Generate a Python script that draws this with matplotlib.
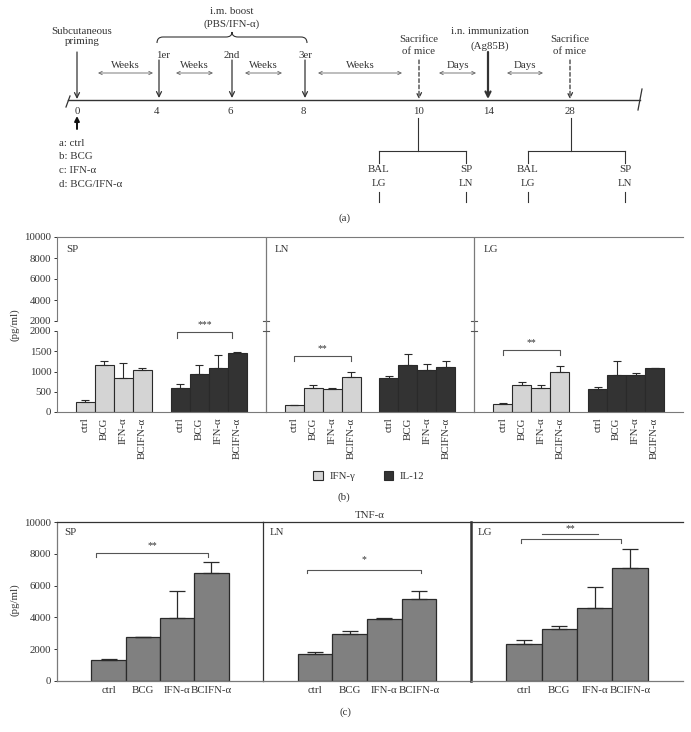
import numpy as np
import matplotlib
matplotlib.use('Agg')
import matplotlib.pyplot as plt
from matplotlib.patches import Patch, PathPatch
from matplotlib.path import Path

plt.rcParams['font.family'] = ['Liberation Serif', 'DejaVu Serif']
plt.rcParams['font.size'] = 7.8
plt.rcParams['text.color'] = '#333333'
plt.rcParams['xtick.color'] = '#333333'
plt.rcParams['ytick.color'] = '#333333'
plt.rcParams['axes.edgecolor'] = '#7a7a7a'
plt.rcParams['axes.facecolor'] = 'none'

# ---- data ----
groups = ['ctrl', 'BCG', 'IFN-α', 'BCIFN-α']
organs = ['SP', 'LN', 'LG']

# (b) IFN-gamma and IL-12, mean and upper SD for each organ
ifng_mean = [[250, 1160, 840, 1040], [170, 590, 570, 860], [190, 660, 590, 990]]
ifng_err = [[40, 110, 360, 35], [0, 85, 20, 125], [20, 80, 85, 135]]
il12_mean = [[600, 930, 1090, 1460], [840, 1150, 1040, 1100], [570, 925, 925, 1075]]
il12_err = [[100, 235, 310, 30], [60, 290, 150, 165], [50, 340, 40, 0]]

# (c) TNF-alpha
tnf_mean = [[1330, 2750, 3980, 6810], [1720, 2980, 3870, 5130], [2310, 3300, 4620, 7080]]
tnf_err = [[50, 0, 1710, 700], [80, 170, 70, 520], [260, 150, 1280, 1220]]

# (a) timeline
tl_labels = ['0', '4', '6', '8', '10', '14', '28']
legend_a = ['a: ctrl', 'b: BCG', 'c: IFN-α', 'd: BCG/IFN-α']

W, H = 691, 732
fig = plt.figure(figsize=(W / 100, H / 100), dpi=100)


def fbox(x0, y0, x1, y1):
    # pixel box -> figure fraction rect
    return [x0 / W, 1 - y1 / H, (x1 - x0) / W, (y1 - y0) / H]


# ================= panel (a) =================
ax = fig.add_axes(fbox(0, 0, W, 225))
ax.set_xlim(0, W)
ax.set_ylim(225, 0)
ax.axis('off')
ink = '#333333'
tl_x = [77, 157, 230, 303, 419, 489, 570]
ty = 100
ax.plot([68, 640], [ty, ty], color=ink, lw=1)
ax.plot([66, 70], [107, 96], color=ink, lw=0.9)
ax.plot([638, 642], [110, 89], color=ink, lw=0.9)
for lab, x in zip(tl_labels, tl_x):
    ax.text(x, 111, lab, ha='center', va='center')

def arrow(x, y0, y1, ls='-', lw=0.9):
    ax.annotate('', xy=(x, y1), xytext=(x, y0),
                arrowprops=dict(arrowstyle='->', color=ink, lw=lw, ls=ls,
                                shrinkA=0, shrinkB=0, mutation_scale=9))

def darrow(x0, x1, y, txt):
    ax.annotate('', xy=(x1, y), xytext=(x0, y),
                arrowprops=dict(arrowstyle='<->', color='#666666', lw=0.6,
                                shrinkA=0, shrinkB=0, mutation_scale=6))
    ax.text((x0 + x1) / 2, y - 8, txt, ha='center', va='center')

arrow(tl_x[0], 52, 99)
ax.text(82, 31, 'Subcutaneous', ha='center', va='center')
ax.text(82, 42, 'priming', ha='center', va='center')
for x, lab in zip(tl_x[1:4], ['1er', '2nd', '3er']):
    arrow(x + 2, 60, 98)
    ax.text(x + 6 if lab == '1er' else x + 2, 55, lab, ha='center', va='center')

# brace over boosts
bx0, bx1, bm = 157, 307, 232
verts = [(bx0, 43), (bx0, 37), (bx0 + 6, 37), (bm - 6, 37), (bm, 37), (bm, 32),
         (bm, 37), (bm + 6, 37), (bx1 - 6, 37), (bx1, 37), (bx1, 43)]
codes = [Path.MOVETO, Path.CURVE3, Path.CURVE3, Path.LINETO, Path.CURVE3, Path.CURVE3,
         Path.CURVE3, Path.CURVE3, Path.LINETO, Path.CURVE3, Path.CURVE3]
ax.add_patch(PathPatch(Path(verts, codes), fill=False, color=ink, lw=0.8))
ax.text(bm, 11, 'i.m. boost', ha='center', va='center')
ax.text(bm, 24, '(PBS/IFN-α)', ha='center', va='center')

darrow(98, 153, 73, 'Weeks')
darrow(176, 213, 73, 'Weeks')
darrow(245, 282, 73, 'Weeks')
darrow(318, 402, 73, 'Weeks')
darrow(439, 476, 73, 'Days')
darrow(507, 543, 73, 'Days')

for x in (tl_x[4], tl_x[6]):
    arrow(x, 60, 99, ls=(0, (3, 2)))
    ax.text(x, 40, 'Sacrifice', ha='center', va='center')
    ax.text(x, 51, 'of mice', ha='center', va='center')
arrow(tl_x[5] - 1, 52, 99, lw=1.6)
ax.text(490, 31, 'i.n. immunization', ha='center', va='center')
ax.text(490, 46, '(Ag85B)', ha='center', va='center')

ax.annotate('', xy=(77, 116), xytext=(77, 129),
            arrowprops=dict(arrowstyle='-|>', color='#111111', lw=1.4,
                            shrinkA=0, shrinkB=0, mutation_scale=7))
for i, s in enumerate(legend_a):
    ax.text(59, 143 + 13.8 * i, s, ha='left', va='center')

for xc, xl, xr in ((tl_x[4] - 1, 379, 466), (tl_x[6] + 1, 528, 625)):
    ax.plot([xc, xc], [118, 151], color=ink, lw=0.8)
    ax.plot([xl, xr], [151, 151], color=ink, lw=0.8)
    for xx, t1, t2 in ((xl, 'BAL', 'LG'), (xr, 'SP', 'LN')):
        ax.plot([xx, xx], [151, 163], color=ink, lw=0.8)
        ax.text(xx, 170, t1, ha='center', va='center')
        ax.text(xx, 183, t2, ha='center', va='center')
        ax.plot([xx, xx], [192, 202], color=ink, lw=0.8)
ax.text(345, 218, '(a)', ha='center', va='center')

# ================= panel (b) =================
light, dark, edge = '#d4d4d4', '#333333', '#2a2a2a'
axt = fig.add_axes(fbox(57, 237, 683, 321))
axb = fig.add_axes(fbox(57, 331, 683, 412))
for a in (axt, axb):
    a.set_xlim(0, 33)
    a.spines['right'].set_visible(False)
    a.tick_params(axis='y', length=2.5, width=0.7, pad=1.5, labelsize=7.8)
    for k in range(3):
        xs = 11 * k + np.arange(1.5, 5.5)
        a.bar(xs, ifng_mean[k], width=1.0, color=light, edgecolor=edge, lw=0.8)
        a.errorbar(xs, ifng_mean[k], yerr=[np.zeros(4), ifng_err[k]], fmt='none',
                   ecolor=edge, elinewidth=0.8, capsize=3, capthick=0.8)
        a.bar(xs + 5, il12_mean[k], width=1.0, color=dark, edgecolor=edge, lw=0.8)
        a.errorbar(xs + 5, il12_mean[k], yerr=[np.zeros(4), il12_err[k]], fmt='none',
                   ecolor=edge, elinewidth=0.8, capsize=3, capthick=0.8)
axt.set_ylim(2000, 10000)
axt.set_yticks(range(2000, 10001, 2000))
axt.set_xticks([])
axt.spines['bottom'].set_visible(False)
axb.set_ylim(0, 2000)
axb.set_yticks(range(0, 2001, 500))
axb.spines['top'].set_visible(False)
tick_x = [11 * k + o + j for k in range(3) for o in (1.5, 6.5) for j in range(4)]
axb.set_xticks(tick_x)
axb.set_xticklabels(groups * 6, rotation=90, fontsize=7.8)
axb.tick_params(axis='x', length=0, pad=4)
for xv in (11, 22):
    axb.axvline(xv, ymin=0, ymax=1.125, color='#7a7a7a', lw=0.9, clip_on=False)
    axt.axvline(xv, color='#7a7a7a', lw=0.9)
    axt.plot([xv - 0.15, xv + 0.15], [2000, 2000], color='#555555', lw=0.8, clip_on=False)
    axb.plot([xv - 0.15, xv + 0.15], [2000, 2000], color='#555555', lw=0.8, clip_on=False)
for k, org in enumerate(organs):
    axt.text(11 * k + 0.5, 8800, org, ha='left', va='center')


def bracket(a, x0, x1, y, h, txt, fs=7, dy=2):
    a.plot([x0, x0, x1, x1], [y - h, y, y, y - h], color='#555555', lw=0.8, clip_on=False)
    if txt:
        a.annotate(txt, ((x0 + x1) / 2, y), xytext=(0, dy), textcoords='offset points',
                   ha='center', va='bottom', fontsize=fs, annotation_clip=False)

bracket(axb, 6.3, 9.25, 1980, 150, '***')
bracket(axb, 12.5, 15.5, 1385, 135, '**')
bracket(axb, 23.5, 26.5, 1540, 130, '**')

fig.text(15 / W, 1 - 325 / H, '(pg/ml)', rotation=90, ha='center', va='center')
fig.legend(handles=[Patch(facecolor=light, edgecolor=edge, lw=0.8),
                    Patch(facecolor=dark, edgecolor=edge, lw=0.8)],
           labels=['IFN-γ', 'IL-12'], loc='center', bbox_to_anchor=(369 / W, 1 - 476 / H),
           ncol=2, frameon=False, handlelength=0.9, handleheight=0.9,
           handletextpad=0.6, columnspacing=2.6, fontsize=7.8)
fig.text(344 / W, 1 - 497 / H, '(b)', ha='center', va='center')

# ================= panel (c) =================
gray = '#808080'
xs = np.arange(1.5, 5.5)
edges = [(57, 263), (263, 471), (471, 683)]
axes_c = []
for k, (x0, x1) in enumerate(edges):
    a = fig.add_axes(fbox(x0, 522, x1, 681))
    a.set_xlim(0, 6)
    a.set_ylim(0, 10000)
    a.bar(xs, tnf_mean[k], width=1.0, color=gray, edgecolor=edge, lw=0.9)
    a.errorbar(xs, tnf_mean[k], yerr=[np.zeros(4), tnf_err[k]], fmt='none',
               ecolor=edge, elinewidth=0.9, capsize=6, capthick=0.9)
    a.set_xticks(xs)
    a.set_xticklabels(groups, fontsize=7.8)
    a.tick_params(axis='x', length=0, pad=3.5)
    for s in a.spines.values():
        s.set_color('#333333')
        s.set_linewidth(0.9)
    if k == 0:
        a.set_yticks(range(0, 10001, 2000))
        a.tick_params(axis='y', length=2.5, width=0.7, pad=1.5, labelsize=7.8)
        a.spines['left'].set_color('#7a7a7a')
        a.spines['bottom'].set_color('#7a7a7a')
    else:
        a.set_yticks([])
        a.spines['right'].set_visible(False)
        a.spines['bottom'].set_color('#7a7a7a')
        if k == 2:
            a.spines['left'].set_linewidth(1.8)
        else:
            a.spines['left'].set_visible(False)
    a.text(0.2, 9350, organs[k], ha='left', va='center')
    axes_c.append(a)

bracket(axes_c[0], 1.15, 4.4, 8040, 250, '**')
bracket(axes_c[1], 1.27, 4.55, 7000, 220, '*', dy=4)
bracket(axes_c[2], 1.42, 4.25, 8940, 250, '')
axes_c[2].plot([2.0, 3.6], [9220, 9220], color='#555555', lw=0.8)
axes_c[2].annotate('**', (2.8, 9220), xytext=(0, 1), textcoords='offset points',
                   ha='center', va='bottom', fontsize=7)

fig.text(370 / W, 1 - 516 / H, 'TNF-α', ha='center', va='center')
fig.text(15 / W, 1 - 600 / H, '(pg/ml)', rotation=90, ha='center', va='center')
fig.text(345 / W, 1 - 712 / H, '(c)', ha='center', va='center')

fig.savefig('out.png', dpi=100, facecolor='white')
